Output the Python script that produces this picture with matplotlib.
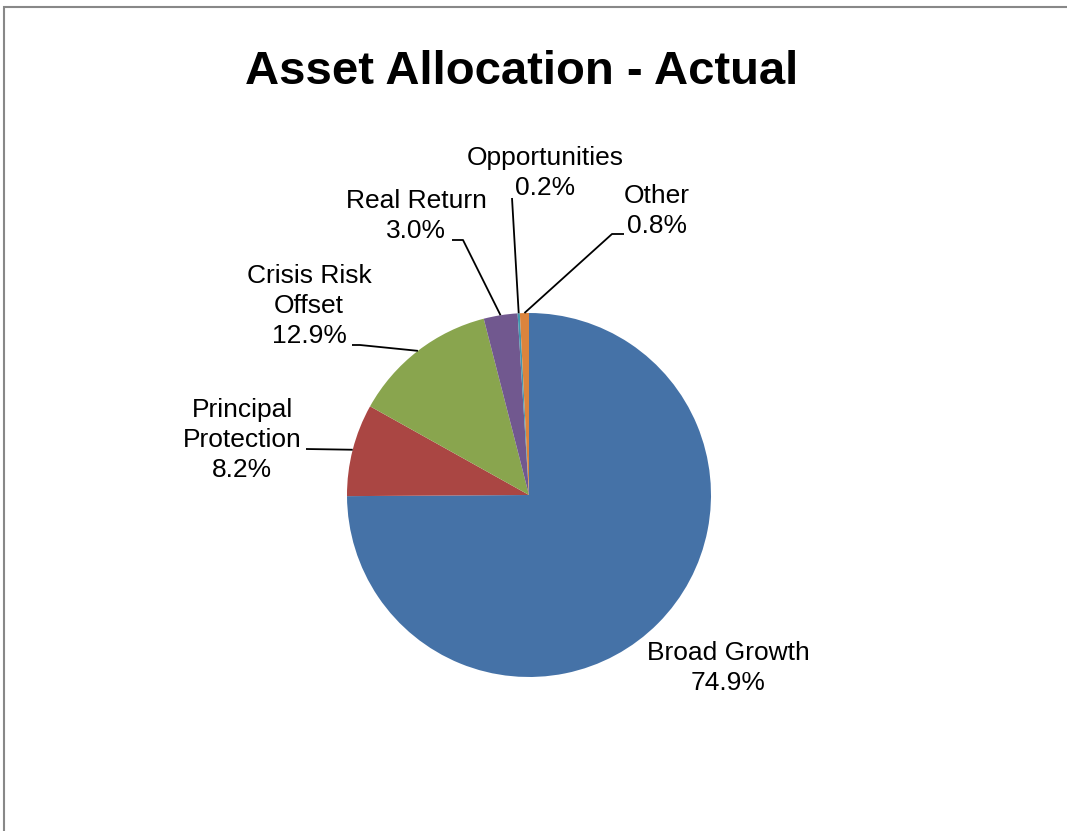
import numpy as np
import matplotlib.pyplot as plt
from matplotlib.patches import Rectangle

plt.rcParams['font.family'] = ['Liberation Sans', 'DejaVu Sans']

labels = ['Broad Growth', 'Principal\nProtection', 'Crisis Risk\nOffset',
          'Real Return', 'Opportunities', 'Other']
values = [74.9, 8.2, 12.9, 3.0, 0.2, 0.8]
colors = ['#4572A7', '#AA4643', '#89A54E', '#71588F', '#4198AF', '#DB843D']

W, H = 1067, 831
fig = plt.figure(figsize=(W / 100, H / 100), dpi=100)
ax = fig.add_axes([0, 0, 1, 1])

# pie in pixel-like coordinates (y up)
cx, cy, r = 529, H - 495, 182
wedges, _ = ax.pie(values, colors=colors, startangle=90, counterclock=False,
                   center=(cx, cy), radius=r, frame=True,
                   wedgeprops=dict(linewidth=0))
ax.set_xlim(0, W)
ax.set_ylim(0, H)
ax.set_aspect('equal')
ax.axis('off')

# label box centres and leader elbows (image pixels, y down)
text_pos = [(728, 668), (242, 440), (309, 306), (416, 216), (545, 173), (657, 211)]
elbows = [None, [(306, 449)], [(360, 345), (352, 345)], [(463, 240), (452, 240)],
          [(512, 198)], [(612, 234), (624, 234)]]

for w, lab, v, tp, el in zip(wedges, labels, values, text_pos, elbows):
    ang = np.deg2rad((w.theta1 + w.theta2) / 2)
    ax.text(tp[0], H - tp[1], f'{lab}\n{v:.1f}%', ha='center', va='center',
            multialignment='center', fontsize=19, linespacing=1.33, color='black')
    if el is None:
        continue
    px = [cx + r * np.cos(ang)] + [p[0] for p in el]
    py = [cy + r * np.sin(ang)] + [H - p[1] for p in el]
    ax.plot(px, py, color='black', linewidth=1.3, solid_capstyle='butt')

ax.text(522, H - 84, 'Asset Allocation - Actual', ha='center', va='baseline',
        fontsize=34, fontweight='bold')

# chart border, cropped on the right and bottom
ax.add_patch(Rectangle((4, -10), W + 10, H - 7 + 10, fill=False,
                       edgecolor='#888888', linewidth=1.5, clip_on=False))

fig.savefig('out.png', dpi=100)
